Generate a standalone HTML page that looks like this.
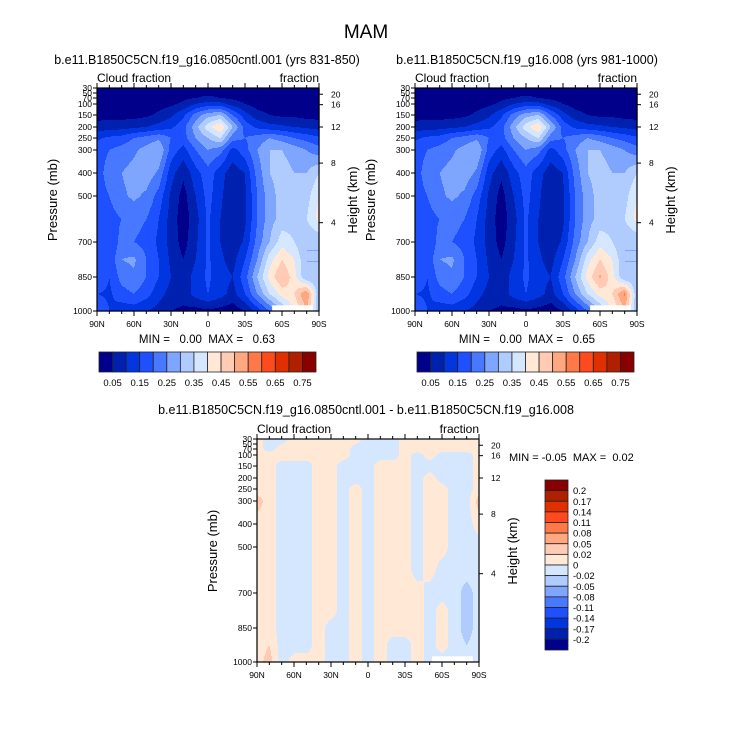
<!DOCTYPE html>
<html><head><meta charset="utf-8">
<style>
html,body{margin:0;padding:0;background:#fff;}
svg{display:block;font-family:"Liberation Sans",Arial,sans-serif;}
</style></head>
<body>
<svg id="fig" width="733" height="756" viewBox="0 0 733 756" xmlns="http://www.w3.org/2000/svg">
<text x="366" y="38" font-size="19" text-anchor="middle">MAM</text>
<text x="207" y="64" font-size="12.5" text-anchor="middle">b.e11.B1850C5CN.f19_g16.0850cntl.001 (yrs 831-850)</text>
<text x="527" y="64" font-size="12.5" text-anchor="middle">b.e11.B1850C5CN.f19_g16.008 (yrs 981-1000)</text>
<text x="366" y="414" font-size="12.5" text-anchor="middle">b.e11.B1850C5CN.f19_g16.0850cntl.001 - b.e11.B1850C5CN.f19_g16.008</text>
<g id="layer"></g>
</svg>
<script>
// ---- data ----
const lats = [90,80,70,60,50,40,30,20,10,0,-10,-20,-30,-40,-50,-60,-70,-80,-90];
const plevs = [30,70,100,150,200,250,300,400,500,600,700,775,850,925,1000];
const cloudCtrl = [
[0.02,0.02,0.02,0.02,0.02,0.02,0.02,0.02,0.02,0.02,0.02,0.02,0.02,0.02,0.02,0.02,0.02,0.02,0.02],
[0.02,0.02,0.02,0.02,0.02,0.02,0.03,0.04,0.05,0.06,0.05,0.04,0.03,0.02,0.02,0.02,0.02,0.02,0.02],
[0.02,0.02,0.02,0.02,0.02,0.03,0.04,0.06,0.10,0.12,0.12,0.08,0.05,0.03,0.02,0.02,0.02,0.02,0.02],
[0.03,0.03,0.03,0.03,0.04,0.06,0.09,0.14,0.22,0.28,0.30,0.20,0.12,0.07,0.05,0.04,0.04,0.03,0.03],
[0.07,0.08,0.08,0.09,0.10,0.12,0.14,0.18,0.28,0.38,0.45,0.30,0.18,0.14,0.12,0.11,0.10,0.09,0.08],
[0.14,0.16,0.17,0.20,0.22,0.24,0.20,0.18,0.25,0.30,0.35,0.22,0.20,0.22,0.25,0.23,0.20,0.18,0.16],
[0.18,0.20,0.22,0.24,0.27,0.30,0.18,0.13,0.20,0.25,0.22,0.13,0.18,0.25,0.30,0.30,0.28,0.25,0.22],
[0.18,0.22,0.25,0.27,0.28,0.24,0.12,0.06,0.13,0.18,0.12,0.07,0.10,0.22,0.30,0.32,0.30,0.30,0.35],
[0.18,0.20,0.24,0.26,0.24,0.18,0.09,0.03,0.10,0.17,0.11,0.06,0.09,0.20,0.28,0.32,0.32,0.33,0.40],
[0.16,0.18,0.20,0.22,0.20,0.15,0.08,0.02,0.08,0.16,0.10,0.06,0.09,0.20,0.28,0.32,0.33,0.35,0.42],
[0.18,0.15,0.22,0.20,0.18,0.14,0.08,0.03,0.09,0.16,0.10,0.06,0.11,0.22,0.30,0.38,0.35,0.30,0.30],
[0.20,0.16,0.25,0.26,0.20,0.15,0.09,0.05,0.10,0.16,0.11,0.08,0.15,0.25,0.38,0.45,0.40,0.30,0.30],
[0.20,0.15,0.22,0.24,0.20,0.15,0.10,0.07,0.12,0.16,0.12,0.10,0.18,0.30,0.42,0.50,0.42,0.30,0.30],
[0.15,0.14,0.18,0.20,0.17,0.12,0.08,0.07,0.12,0.15,0.12,0.08,0.15,0.25,0.35,0.42,0.45,0.55,0.30],
[0.20,0.15,0.12,0.12,0.10,0.08,0.05,0.04,0.03,0.04,0.03,0.02,0.05,0.12,0.20,0.30,0.40,0.50,0.30]];
const cloudExp = [
[0.02,0.02,0.02,0.02,0.02,0.02,0.02,0.02,0.02,0.02,0.02,0.02,0.02,0.02,0.02,0.02,0.02,0.02,0.02],
[0.02,0.02,0.02,0.02,0.02,0.02,0.03,0.04,0.05,0.06,0.05,0.04,0.03,0.02,0.02,0.02,0.02,0.02,0.02],
[0.02,0.02,0.02,0.02,0.02,0.03,0.04,0.06,0.10,0.12,0.12,0.08,0.05,0.03,0.02,0.02,0.02,0.02,0.02],
[0.03,0.03,0.03,0.03,0.04,0.06,0.09,0.14,0.22,0.28,0.30,0.20,0.12,0.07,0.05,0.04,0.04,0.03,0.03],
[0.07,0.08,0.08,0.09,0.10,0.12,0.14,0.18,0.28,0.38,0.45,0.30,0.18,0.14,0.12,0.11,0.10,0.09,0.08],
[0.14,0.16,0.17,0.20,0.22,0.24,0.20,0.18,0.25,0.30,0.35,0.22,0.20,0.22,0.25,0.23,0.20,0.18,0.16],
[0.18,0.20,0.22,0.24,0.27,0.30,0.18,0.13,0.20,0.25,0.22,0.13,0.18,0.25,0.30,0.30,0.28,0.25,0.22],
[0.18,0.22,0.25,0.27,0.28,0.24,0.12,0.06,0.13,0.18,0.12,0.07,0.10,0.22,0.30,0.32,0.30,0.30,0.35],
[0.18,0.20,0.24,0.26,0.24,0.18,0.09,0.03,0.10,0.17,0.11,0.06,0.09,0.20,0.28,0.32,0.32,0.33,0.40],
[0.16,0.18,0.20,0.22,0.20,0.15,0.08,0.02,0.08,0.16,0.10,0.06,0.09,0.20,0.28,0.32,0.33,0.35,0.42],
[0.18,0.15,0.22,0.20,0.18,0.14,0.08,0.03,0.09,0.16,0.10,0.06,0.11,0.22,0.30,0.38,0.35,0.30,0.30],
[0.20,0.16,0.25,0.26,0.20,0.15,0.09,0.05,0.10,0.16,0.11,0.08,0.15,0.25,0.38,0.45,0.40,0.30,0.30],
[0.20,0.15,0.22,0.24,0.20,0.15,0.10,0.07,0.12,0.16,0.12,0.10,0.18,0.30,0.42,0.51,0.42,0.30,0.30],
[0.15,0.14,0.18,0.20,0.17,0.12,0.08,0.07,0.12,0.15,0.12,0.08,0.15,0.25,0.35,0.42,0.45,0.56,0.30],
[0.20,0.15,0.12,0.12,0.10,0.08,0.05,0.04,0.03,0.04,0.03,0.02,0.05,0.12,0.20,0.30,0.40,0.50,0.30]];
const cloudDiff = [
[0.01,-0.01,-0.01,0.01,0.01,0.01,0.01,0.01,0.01,-0.01,-0.01,-0.01,0.01,0.01,0.01,0.01,0.01,0.01,0.01],
[0.01,-0.01,0.01,0.01,0.01,0.01,0.01,0.01,-0.01,-0.01,-0.01,-0.01,0.01,0.01,0.01,0.01,0.01,0.01,0.01],
[0.01,0.01,0.01,0.01,0.01,0.01,0.01,0.01,-0.01,-0.01,-0.01,-0.01,0.01,-0.01,0.01,-0.01,-0.01,-0.01,0.01],
[0.01,0.01,-0.01,-0.01,-0.01,0.01,0.01,-0.01,-0.01,-0.01,0.01,0.01,0.01,-0.01,-0.01,-0.01,-0.01,-0.01,0.01],
[0.01,0.01,-0.01,-0.01,-0.01,0.01,0.01,-0.01,-0.01,-0.01,0.01,0.01,0.01,-0.01,0.01,-0.01,-0.01,-0.01,0.01],
[0.01,0.01,-0.01,-0.01,-0.01,0.01,0.01,-0.01,0.01,-0.01,0.01,0.01,0.01,-0.01,0.01,0.01,-0.01,-0.01,0.01],
[0.03,0.01,-0.01,-0.01,-0.01,0.01,0.01,-0.01,0.01,-0.01,0.01,0.01,0.01,-0.01,0.01,0.01,-0.01,-0.01,0.03],
[0.01,0.01,-0.01,-0.01,-0.01,0.01,0.01,-0.01,0.01,-0.01,0.01,0.01,0.01,-0.01,0.01,0.01,-0.01,-0.01,0.01],
[0.01,0.01,-0.01,-0.01,-0.01,0.01,0.01,-0.01,0.01,-0.01,0.01,0.01,0.01,-0.01,0.01,0.01,-0.01,-0.01,-0.01],
[0.01,0.01,-0.01,-0.01,-0.01,0.01,0.01,-0.01,0.01,-0.01,0.01,0.01,0.01,-0.01,0.01,-0.01,-0.01,-0.01,-0.01],
[0.01,0.01,-0.01,-0.01,-0.01,0.01,0.01,-0.01,0.01,-0.01,0.01,0.01,0.01,0.01,-0.01,-0.01,-0.01,-0.03,-0.01],
[0.01,0.01,-0.01,-0.01,-0.01,0.01,0.01,-0.01,0.01,-0.01,0.01,0.01,0.01,0.01,-0.01,0.01,-0.01,-0.03,-0.01],
[0.01,0.01,-0.01,-0.01,-0.01,0.01,-0.01,-0.01,0.01,-0.01,0.01,0.01,0.01,0.01,-0.01,0.01,-0.01,-0.03,-0.01],
[0.01,0.02,-0.01,-0.01,-0.01,0.01,-0.01,-0.01,0.01,-0.01,0.01,-0.01,-0.01,0.01,-0.01,0.01,-0.01,-0.02,-0.01],
[0.01,0.03,-0.01,0.01,0.01,0.01,-0.01,-0.01,0.01,-0.01,0.01,-0.01,-0.01,0.01,-0.01,-0.01,-0.01,-0.01,-0.01]];
const cloudLevels = [0.05,0.1,0.15,0.2,0.25,0.3,0.35,0.4,0.45,0.5,0.55,0.6,0.65,0.7,0.75];
const cloudLevelLabels = ["0.05","0.15","0.25","0.35","0.45","0.55","0.65","0.75"];
const diffLevels = [-0.2,-0.17,-0.14,-0.11,-0.08,-0.05,-0.02,0,0.02,0.05,0.08,0.11,0.14,0.17,0.2];
const diffLevelLabels = ["0.2","0.17","0.14","0.11","0.08","0.05","0.02","0","-0.02","-0.05","-0.08","-0.11","-0.14","-0.17","-0.2"];
const palette = ["#00008a","#0020b0","#0035e0","#1e50ff","#4878ff","#7fa6ff","#b0ccff","#d5e6ff","#ffe8d6","#ffcbb5","#ffa880","#ff7848","#ff4a1e","#e03000","#b02000","#880000"];
const pressureTicks = [30,50,70,100,150,200,250,300,400,500,700,850,1000];
const heightTicks = [20,16,12,8,4];
const heightTickPressures = [55,103,200,357,616];
const latTickLabels = ["90N","60N","30N","0","30S","60S","90S"];
const latTicks = [90,60,30,0,-30,-60,-90];
const missingLat = [-52,-85]; const missingP = 975;
const minmax = [["0.00","0.63"],["0.00","0.65"],["-0.05","0.02"]];

// ---- axes ----
const NS="http://www.w3.org/2000/svg";
const layer=document.getElementById('layer');
function el(tag,attrs,parent){const e=document.createElementNS(NS,tag);for(const k in attrs)e.setAttribute(k,attrs[k]);(parent||layer).appendChild(e);return e;}
const pTab=[[30,0],[50,5],[70,10],[100,16],[150,27],[200,39],[250,50],[300,62],[400,85],[500,108],[700,154],[850,189],[1000,223]];
function pToFrac(p){for(let i=0;i<pTab.length-1;i++){const a=pTab[i],b=pTab[i+1];if(p<=b[0]){return a[1]+(p-a[0])/(b[0]-a[0])*(b[1]-a[1]);}}return 223;}
function fracToP(f){for(let i=0;i<pTab.length-1;i++){const a=pTab[i],b=pTab[i+1];if(f<=b[1]){return a[0]+(f-a[1])/(b[1]-a[1])*(b[0]-a[0]);}}return 1000;}
function colorIdx(v,levels){let i=0;while(i<levels.length&&v>=levels[i])i++;return i;}
function sample(field,lat,p){
  let li=(90-lat)/10; li=Math.max(0,Math.min(17.9999,li)); const i0=Math.floor(li),fx=li-i0;
  let k=0; while(k<plevs.length-2&&p>plevs[k+1])k++;
  let fy=(p-plevs[k])/(plevs[k+1]-plevs[k]); fy=Math.max(0,Math.min(1,fy));
  const a=field[k][i0],b=field[k][i0+1],c=field[k+1][i0],d=field[k+1][i0+1];
  return (a*(1-fx)+b*fx)*(1-fy)+(c*(1-fx)+d*fx)*fy;
}
function panel(name,x0,y0,field,levels,mm,hasMissing){
  const W=222,H=223;
  const g=el('g',{});
  
  
  const xs=lat=>x0+(90-lat)/180*W;
  for(let r=0;r<H;r++){
    const p=fracToP(r+0.5);
    let start=0,cur=-1;
    for(let c=0;c<=W;c++){
      let ci=-2;
      if(c<W){const lat=90-(c+0.5)/W*180;ci=colorIdx(sample(field,lat,p),levels);}
      if(ci!==cur){
        if(cur>=0&&c>start){el('rect',{x:x0+start,y:y0+r,width:c-start+0.6,height:1.6,fill:palette[cur]},g);}
        cur=ci;start=c;
      }
    }
  }
  if(hasMissing){
    const m=el('rect',{x:xs(missingLat[0]),y:y0+pToFrac(missingP),width:xs(missingLat[1])-xs(missingLat[0]),height:H-pToFrac(missingP),fill:'#fff'},g);
    
    
  }
  const fr=el('rect',{x:x0,y:y0,width:W,height:H,fill:'none',stroke:'#000','stroke-width':1.2},g);
  
  
  pressureTicks.forEach(p=>{const y=y0+pToFrac(p);
    el('line',{x1:x0-4,x2:x0,y1:y,y2:y,stroke:'#000'},g);
    const t=el('text',{x:x0-5,y:y+3,'font-size':8.5,'text-anchor':'end'},g);t.textContent=p;
    
    });
  heightTicks.forEach((h,i)=>{const y=y0+pToFrac(heightTickPressures[i]);
    el('line',{x1:x0+W,x2:x0+W+4,y1:y,y2:y,stroke:'#000'},g);
    const t=el('text',{x:x0+W+12,y:y+3,'font-size':8.5},g);t.textContent=h;
    
    });
  latTicks.forEach((l,i)=>{const x=xs(l);
    el('line',{x1:x,x2:x,y1:y0+H,y2:y0+H+5,stroke:'#000'},g);
    el('line',{x1:x,x2:x,y1:y0,y2:y0-5,stroke:'#000'},g);
    const t=el('text',{x:x,y:y0+H+16,'font-size':8.5,'text-anchor':'middle'},g);t.textContent=latTickLabels[i];
    
    });
  for(let l=80;l>-90;l-=10){if(l%30===0)continue;const x=xs(l);
    el('line',{x1:x,x2:x,y1:y0+H,y2:y0+H+3,stroke:'#000'},g);
    el('line',{x1:x,x2:x,y1:y0,y2:y0-3,stroke:'#000'},g);}
  let t=el('text',{x:x0,y:y0-6,'font-size':12},g);t.textContent='Cloud fraction';
  
  
  t=el('text',{x:x0+W,y:y0-6,'font-size':12,'text-anchor':'end'},g);t.textContent='fraction';
  
  
  t=el('text',{x:0,y:0,'font-size':13,'text-anchor':'middle',transform:`translate(${x0-40},${y0+112}) rotate(-90)`},g);t.textContent='Pressure (mb)';
  
  
  t=el('text',{x:0,y:0,'font-size':13,'text-anchor':'middle',transform:`translate(${x0+W+38},${y0+112}) rotate(-90)`},g);t.textContent='Height (km)';
  
  
  return g;
}
function hbar(x0,y0){
  const g=el('g',{});
  
  
  const bw=217/palette.length;
  palette.forEach((c,i)=>{el('rect',{x:x0+i*bw,y:y0,width:bw,height:20,fill:c,stroke:'#222','stroke-width':0.8},g);});
  cloudLevelLabels.forEach((s,i)=>{const t=el('text',{x:x0+bw*(1+2*i),y:y0+34,'font-size':9.5,'text-anchor':'middle'},g);t.textContent=s;
    
    });
}
panel('control-cloud-panel',97,88,cloudCtrl,cloudLevels,minmax[0],true);
panel('experiment-cloud-panel',415,88,cloudExp,cloudLevels,minmax[1],true);
panel('difference-cloud-panel',257,439,cloudDiff,diffLevels,minmax[2],true);
[[207,minmax[0]],[527,minmax[1]]].forEach(([x,m])=>{const t=el('text',{x:x,y:343,'font-size':11.5,'text-anchor':'middle'});t.textContent=`MIN =   ${m[0]}  MAX =   ${m[1]}`;t.style.whiteSpace='pre';
  
  });
const tmm=el('text',{x:509,y:461,'font-size':11});tmm.textContent=`MIN = ${minmax[2][0]}  MAX =  ${minmax[2][1]}`;tmm.style.whiteSpace='pre';


hbar(99,352);hbar(417,352);
(function(){const g=el('g',{});
  
  
  const x0=545,y0=480,bh=170/palette.length;
  palette.slice().reverse().forEach((c,i)=>{el('rect',{x:x0,y:y0+i*bh,width:23,height:bh,fill:c,stroke:'#222','stroke-width':0.8},g);});
  diffLevelLabels.forEach((s,i)=>{const t=el('text',{x:x0+28,y:y0+bh*(i+1)+3.5,'font-size':9.5},g);t.textContent=s;
    
    });
})();
</script>
</body></html>
